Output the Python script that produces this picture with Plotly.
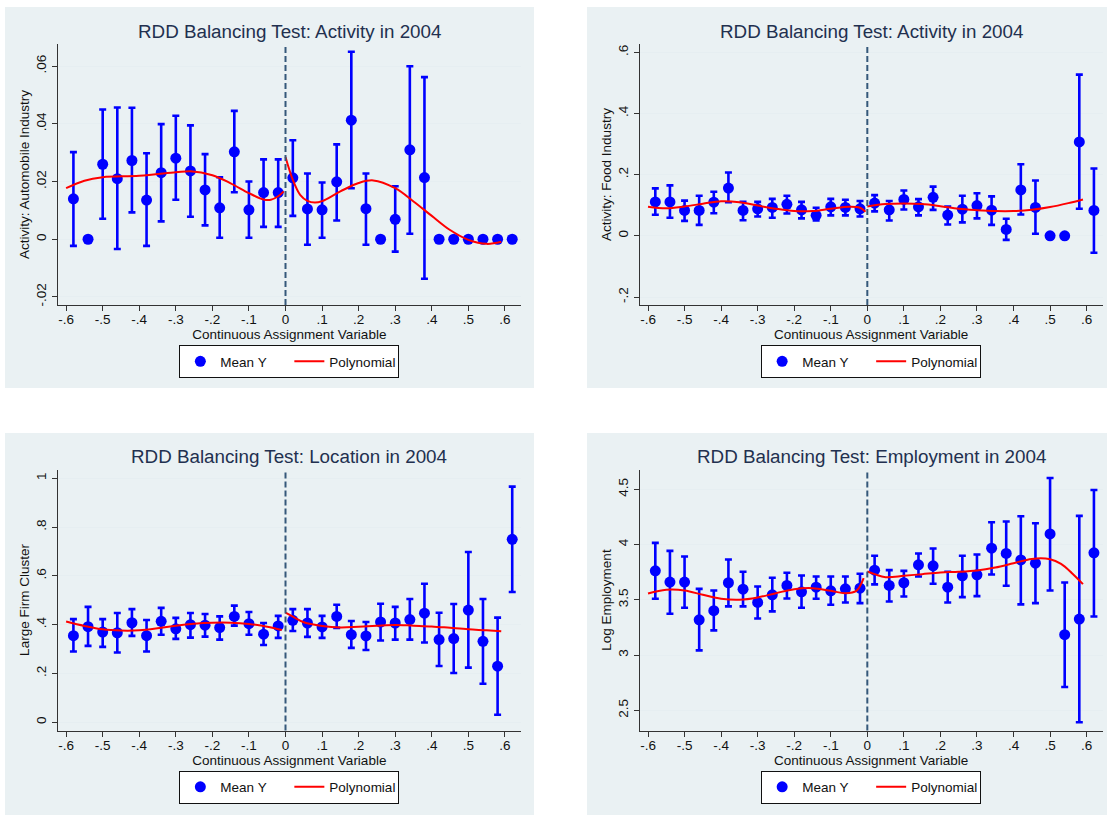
import plotly.graph_objects as go

# ---------------- data ----------------
x_bins = [-0.58, -0.54, -0.50, -0.46, -0.42, -0.38, -0.34, -0.30, -0.26, -0.22, -0.18, -0.14, -0.10, -0.06, -0.02,
          0.02, 0.06, 0.10, 0.14, 0.18, 0.22, 0.26, 0.30, 0.34, 0.38, 0.42, 0.46, 0.50, 0.54, 0.58, 0.62]

x_tick_vals = [-0.6, -0.5, -0.4, -0.3, -0.2, -0.1, 0, 0.1, 0.2, 0.3, 0.4, 0.5, 0.6]
x_tick_text = ["-.6", "-.5", "-.4", "-.3", "-.2", "-.1", "0", ".1", ".2", ".3", ".4", ".5", ".6"]

# Panel 1: Activity - Automobile Industry
auto_mean = [0.0140, 0.0000, 0.0260, 0.0210, 0.0273, 0.0136, 0.0231, 0.0281, 0.0237, 0.0171, 0.0109, 0.0303, 0.0102,
             0.0162, 0.0162, 0.0213, 0.0105, 0.0102, 0.0199, 0.0413, 0.0106, 0.0000, 0.0069, 0.0310, 0.0214,
             0.0, 0.0, 0.0, 0.0, 0.0, 0.0]
auto_hi = [0.0302, None, 0.0450, 0.0457, 0.0456, 0.0298, 0.0399, 0.0428, 0.0395, 0.0295, 0.0215, 0.0445, 0.0200,
           0.0277, 0.0277, 0.0343, 0.0228, 0.0197, 0.0329, 0.0650, 0.0228, None, 0.0184, 0.0600, 0.0562,
           None, None, None, None, None, None]
auto_lo = [-0.0023, None, 0.0071, -0.0034, 0.0093, -0.0023, 0.0062, 0.0137, 0.0078, 0.0048, 0.0005, 0.0163, 0.0005,
           0.0043, 0.0043, 0.0081, -0.0019, 0.0005, 0.0065, 0.0177, -0.0019, None, -0.0043, 0.0019, -0.0137,
           None, None, None, None, None, None]
auto_poly_x_left = [-0.60, -0.55, -0.50, -0.40, -0.30, -0.26, -0.20, -0.15, -0.10, -0.06, -0.04, -0.02, -0.005]
auto_poly_y_left = [0.0177, 0.0203, 0.0215, 0.0220, 0.0232, 0.0236, 0.0222, 0.0194, 0.0160, 0.0138, 0.0137, 0.0149, 0.0166]
auto_poly_x_right = [0.0, 0.02, 0.04, 0.06, 0.08, 0.10, 0.15, 0.20, 0.24, 0.30, 0.35, 0.40, 0.45, 0.50, 0.55, 0.59]
auto_poly_y_right = [0.0285, 0.0206, 0.0154, 0.0133, 0.0127, 0.0132, 0.0166, 0.0195, 0.0204, 0.0177, 0.0131, 0.0081,
                     0.0032, -0.0002, -0.0016, -0.0009]

# Panel 2: Activity - Food Industry
food_mean = [0.111, 0.111, 0.083, 0.083, 0.110, 0.156, 0.083, 0.0885, 0.093, 0.103, 0.085, 0.067, 0.095, 0.093, 0.0885,
             0.107, 0.085, 0.119, 0.095, 0.126, 0.068, 0.087, 0.099, 0.084, 0.021, 0.150, 0.093, 0.0, 0.0, 0.307, 0.083]
food_hi = [0.155, 0.165, 0.115, 0.131, 0.144, 0.207, 0.111, 0.111, 0.121, 0.131, 0.111, 0.092, 0.121, 0.118, 0.114,
           0.133, 0.114, 0.148, 0.120, 0.161, 0.096, 0.131, 0.139, 0.129, 0.056, 0.234, 0.181, None, None, 0.527, 0.220]
food_lo = [0.069, 0.059, 0.049, 0.036, 0.074, 0.110, 0.051, 0.063, 0.059, 0.073, 0.057, 0.050, 0.067, 0.067, 0.063,
           0.080, 0.050, 0.086, 0.067, 0.085, 0.037, 0.044, 0.057, 0.036, -0.013, 0.070, 0.007, None, None, 0.0885, -0.055]
food_poly_x_left = [-0.60, -0.55, -0.50, -0.45, -0.40, -0.35, -0.30, -0.25, -0.20, -0.15, -0.10, -0.05, -0.02, -0.005]
food_poly_y_left = [0.095, 0.090, 0.096, 0.105, 0.113, 0.110, 0.099, 0.0885, 0.081, 0.081, 0.0885, 0.095, 0.092, 0.079]
food_poly_x_right = [0.0, 0.05, 0.10, 0.15, 0.20, 0.25, 0.30, 0.35, 0.40, 0.45, 0.50, 0.55, 0.59]
food_poly_y_right = [0.096, 0.104, 0.106, 0.104, 0.097, 0.0885, 0.084, 0.081, 0.081, 0.085, 0.094, 0.107, 0.119]

# Panel 3: Location - Large Firm Cluster
loc_mean = [0.355, 0.392, 0.370, 0.367, 0.408, 0.355, 0.414, 0.383, 0.400, 0.398, 0.388, 0.434, 0.404, 0.361, 0.395,
            0.418, 0.407, 0.391, 0.434, 0.359, 0.354, 0.411, 0.407, 0.421, 0.447, 0.339, 0.343, 0.460, 0.332, 0.230, 0.750]
loc_hi = [0.423, 0.473, 0.423, 0.448, 0.464, 0.419, 0.469, 0.428, 0.448, 0.444, 0.434, 0.478, 0.452, 0.407, 0.436,
          0.464, 0.464, 0.436, 0.482, 0.415, 0.411, 0.486, 0.473, 0.505, 0.568, 0.449, 0.485, 0.698, 0.505, 0.429, 0.966]
loc_lo = [0.290, 0.313, 0.309, 0.286, 0.354, 0.290, 0.359, 0.342, 0.347, 0.351, 0.339, 0.396, 0.359, 0.317, 0.346,
          0.374, 0.350, 0.346, 0.387, 0.305, 0.296, 0.335, 0.339, 0.339, 0.327, 0.231, 0.202, 0.224, 0.158, 0.031, 0.534]
loc_poly_x_left = [-0.60, -0.55, -0.50, -0.45, -0.40, -0.35, -0.30, -0.25, -0.20, -0.15, -0.10, -0.05, -0.01]
loc_poly_y_left = [0.413, 0.395, 0.381, 0.376, 0.377, 0.385, 0.396, 0.404, 0.408, 0.408, 0.403, 0.392, 0.378]
loc_poly_x_right = [0.0, 0.02, 0.05, 0.10, 0.15, 0.20, 0.25, 0.30, 0.35, 0.40, 0.45, 0.50, 0.55, 0.59]
loc_poly_y_right = [0.449, 0.433, 0.410, 0.395, 0.389, 0.392, 0.396, 0.399, 0.396, 0.393, 0.387, 0.381, 0.377, 0.373]

# Panel 4: Employment - Log Employment
emp_mean = [3.762, 3.660, 3.660, 3.319, 3.401, 3.654, 3.596, 3.476, 3.545, 3.630, 3.572, 3.614, 3.581, 3.599, 3.605,
            3.768, 3.630, 3.654, 3.816, 3.807, 3.614, 3.717, 3.726, 3.967, 3.919, 3.861, 3.831, 4.096, 3.184, 3.325, 3.925]
emp_hi = [4.015, 3.943, 3.892, 3.599, 3.584, 3.864, 3.753, 3.620, 3.699, 3.744, 3.720, 3.711, 3.711, 3.711, 3.735,
          3.898, 3.768, 3.762, 3.919, 3.964, 3.753, 3.898, 3.910, 4.202, 4.208, 4.256, 4.193, 4.602, 3.657, 4.259, 4.494]
emp_lo = [3.509, 3.373, 3.428, 3.042, 3.223, 3.440, 3.440, 3.331, 3.395, 3.512, 3.428, 3.509, 3.455, 3.476, 3.470,
          3.639, 3.485, 3.530, 3.711, 3.645, 3.476, 3.524, 3.533, 3.729, 3.627, 3.458, 3.470, 3.584, 2.711, 2.392, 3.349]
emp_poly_x_left = [-0.60, -0.55, -0.50, -0.45, -0.40, -0.35, -0.30, -0.25, -0.20, -0.15, -0.10, -0.06, -0.03, -0.01]
emp_poly_y_left = [3.557, 3.590, 3.584, 3.545, 3.509, 3.500, 3.521, 3.560, 3.596, 3.605, 3.581, 3.560, 3.581, 3.696]
emp_poly_x_right = [0.0, 0.02, 0.05, 0.10, 0.15, 0.20, 0.25, 0.30, 0.35, 0.40, 0.45, 0.50, 0.53, 0.56, 0.59]
emp_poly_y_right = [3.756, 3.732, 3.705, 3.717, 3.732, 3.747, 3.753, 3.765, 3.792, 3.831, 3.870, 3.867, 3.825, 3.741, 3.642]

titles = ["RDD Balancing Test: Activity in 2004", "RDD Balancing Test: Activity in 2004",
          "RDD Balancing Test: Location in 2004", "RDD Balancing Test: Employment in 2004"]
y_titles = ["Activity: Automobile Industry", "Activity: Food Industry", "Large Firm Cluster", "Log Employment"]
y_tick_vals = [[-0.02, 0, 0.02, 0.04, 0.06], [-0.2, 0, 0.2, 0.4, 0.6], [0, 0.2, 0.4, 0.6, 0.8, 1.0],
               [2.5, 3.0, 3.5, 4.0, 4.5]]
y_tick_text = [["-.02", "0", ".02", ".04", ".06"], ["-.2", "0", ".2", ".4", ".6"], ["0", ".2", ".4", ".6", ".8", "1"],
               ["2.5", "3", "3.5", "4", "4.5"]]
y_ranges = [[-0.0228, 0.0677], [-0.226, 0.627], [-0.0336, 1.036], [2.317, 4.679]]
x_range = [-0.623, 0.644]

# ---------------- layout geometry (pixels) ----------------
W, H = 1107, 815
FONT = "Liberation Sans, Arial, Helvetica, sans-serif"
BG = "#EAF1F3"
cols = [(57.7, 521.0), (639.6, 1102.7)]
row_off = [0.0, 425.5]
plot_top, plot_bot = 44.0, 305.0
bg_cols = [(5, 534), (587, 1107)]
bg_rows = [(7, 388), (433, 815)]

panels = [
    (auto_mean, auto_hi, auto_lo, auto_poly_x_left, auto_poly_y_left, auto_poly_x_right, auto_poly_y_right),
    (food_mean, food_hi, food_lo, food_poly_x_left, food_poly_y_left, food_poly_x_right, food_poly_y_right),
    (loc_mean, loc_hi, loc_lo, loc_poly_x_left, loc_poly_y_left, loc_poly_x_right, loc_poly_y_right),
    (emp_mean, emp_hi, emp_lo, emp_poly_x_left, emp_poly_y_left, emp_poly_x_right, emp_poly_y_right),
]

fig = go.Figure()
shapes = []
annotations = []
layout_extra = {}


def px_x(p):
    return p / W


def px_y(p):
    return 1 - p / H


for i, (mean, hi, lo, pxl, pyl, pxr, pyr) in enumerate(panels):
    r, c = divmod(i, 2)
    sfx = "" if i == 0 else str(i + 1)
    xa, ya = "x" + sfx, "y" + sfx
    leg = "legend" + sfx
    err_up = [None if h is None else h - m for h, m in zip(hi, mean)]
    err_dn = [None if l is None else m - l for l, m in zip(lo, mean)]
    fig.add_trace(go.Scatter(
        x=x_bins, y=mean, mode="markers", name="Mean Y",
        marker=dict(color="#0000FF", size=11),
        error_y=dict(type="data", symmetric=False, array=err_up, arrayminus=err_dn,
                     color="#0000FF", thickness=2.6, width=3.5),
        xaxis=xa, yaxis=ya, legend=leg, cliponaxis=False,
    ))
    fig.add_trace(go.Scatter(
        x=pxl + [None] + pxr, y=pyl + [None] + pyr, mode="lines", name="Polynomial",
        line=dict(color="#FF0000", width=2, shape="spline", smoothing=1.0),
        connectgaps=False, xaxis=xa, yaxis=ya, legend=leg,
    ))

    x0p, x1p = cols[c]
    top = plot_top + row_off[r]
    bot = plot_bot + row_off[r]
    xdom = [px_x(x0p), px_x(x1p)]
    ydom = [px_y(bot), px_y(top)]
    axis_font = dict(family=FONT, size=13.5, color="#111111")
    layout_extra["xaxis" + sfx] = dict(
        domain=xdom, anchor=ya, range=x_range, tickmode="array", tickvals=x_tick_vals, ticktext=x_tick_text,
        ticks="outside", ticklen=5, tickwidth=1, tickcolor="#333333", showline=True, linecolor="#333333",
        linewidth=1.2, showgrid=False, zeroline=False, tickfont=axis_font, automargin=False,
        ticklabelstandoff=-3,
        title=dict(text="Continuous Assignment Variable", font=axis_font, standoff=0),
    )
    layout_extra["yaxis" + sfx] = dict(
        domain=ydom, anchor=xa, range=y_ranges[i], tickmode="array", tickvals=y_tick_vals[i],
        ticktext=y_tick_text[i], tickangle=-90, ticks="outside", ticklen=5, tickwidth=1, tickcolor="#333333",
        showline=True, linecolor="#333333", linewidth=1.2, showgrid=True, gridcolor="#E6EEF1", gridwidth=1,
        zeroline=False, tickfont=axis_font, automargin=False,
        title=dict(text=y_titles[i], font=axis_font, standoff=1),
    )
    # panel background
    bx0, bx1 = bg_cols[c]
    by0, by1 = bg_rows[r]
    shapes.append(dict(type="rect", xref="paper", yref="paper", x0=px_x(bx0), x1=px_x(bx1),
                       y0=px_y(by1), y1=px_y(by0), fillcolor=BG, line=dict(width=0), layer="below"))
    # cutoff line
    shapes.append(dict(type="line", xref=xa, yref=ya + " domain", x0=0, x1=0, y0=0, y1=1,
                       line=dict(color="#35587A", width=2, dash="6px,3px"), layer="above"))
    # title
    cx = (x0p + x1p) / 2
    annotations.append(dict(text=titles[i], x=px_x(cx), y=px_y(31 + row_off[r]), xref="paper", yref="paper",
                            xanchor="center", yanchor="middle", showarrow=False,
                            font=dict(family=FONT, size=18.8, color="#22304F")))
    layout_extra[leg] = dict(
        x=px_x(cx), xanchor="center", y=px_y(345 + row_off[r]), yanchor="top", orientation="h",
        bgcolor="white", bordercolor="#111111", borderwidth=1, entrywidth=64,
        font=dict(family=FONT, size=13.5, color="#111111"),
    )

fig.update_layout(
    width=W, height=H, autosize=False,
    margin=dict(l=0, r=0, t=0, b=0, pad=0),
    paper_bgcolor="white", plot_bgcolor="white",
    font=dict(family=FONT, size=13.5, color="#111111"),
    shapes=shapes, annotations=annotations, showlegend=True,
    **layout_extra,
)

fig.write_html("out.html", config={"displayModeBar": False},
               post_script="document.body.style.margin='0';document.body.style.padding='0';")
